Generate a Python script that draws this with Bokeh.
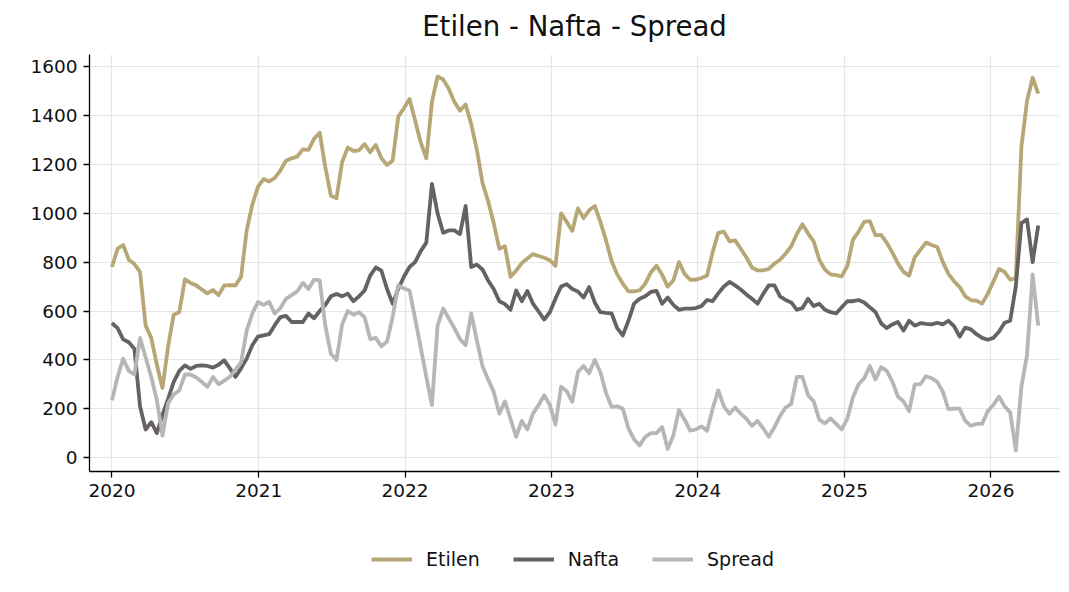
import pandas as pd
from bokeh.plotting import figure
from bokeh.layouts import column
from bokeh.models import Range1d, FixedTicker, DatetimeTickFormatter, Legend, LegendItem, ColumnDataSource
from bokeh.embed import file_html
from bokeh.resources import INLINE

# ---- data (biweekly) ----
start_date = "2020-01-01"
n_points = 166

etilen = [780, 855, 870, 810, 792, 760, 540, 490, 380, 285,
          455, 585, 596, 730, 715, 705, 688, 672, 686, 665,
          705, 706, 705, 740, 930, 1035, 1108, 1140, 1130, 1145,
          1175, 1215, 1225, 1232, 1262, 1260, 1305, 1330, 1190, 1072,
          1062, 1210, 1269, 1255, 1258, 1283, 1250, 1280, 1225, 1198,
          1215, 1395, 1430, 1468, 1380, 1290, 1225, 1456, 1560, 1548,
          1510, 1456, 1420, 1445, 1365, 1260, 1125, 1050, 960, 855,
          865, 740, 765, 796, 815, 833, 825, 818, 808, 785,
          1000, 965, 928, 1020, 980, 1012, 1030, 965, 890, 805,
          750, 712, 680, 680, 685, 712, 758, 785, 748, 700,
          725, 800, 752, 728, 728, 735, 745, 840, 920, 925,
          885, 889, 855, 820, 778, 766, 766, 772, 794, 810,
          835, 865, 915, 955, 917, 885, 810, 770, 750, 747,
          742, 785, 892, 925, 965, 968, 910, 912, 880, 840,
          795, 760, 745, 820, 850, 880, 870, 862, 800, 752,
          722, 698, 660, 645, 642, 630, 670, 720, 772, 760,
          728, 735, 1272, 1460, 1555, 1490]

nafta = [551, 530, 484, 472, 445, 210, 115, 145, 100, 175,
         240, 310, 355, 377, 363, 375, 377, 375, 368, 380,
         398, 365, 330, 365, 405, 460, 495, 500, 505, 542,
         575, 580, 555, 555, 555, 590, 570, 600, 625, 660,
         670, 660, 671, 640, 660, 684, 745, 778, 765, 690,
         630, 690, 740, 780, 800, 845, 880, 1120, 1000, 920,
         930, 930, 915, 1030, 780, 790, 770, 725, 690, 640,
         628, 605, 684, 640, 682, 630, 598, 565, 595, 650,
         700, 710, 690, 680, 655, 698, 635, 595, 592, 590,
         530, 500, 560, 630, 650, 660, 678, 682, 630, 655,
         625, 605, 610, 610, 612, 620, 645, 640, 672, 700,
         719, 705, 688, 668, 650, 630, 670, 705, 705, 660,
         645, 635, 605, 612, 650, 620, 630, 605, 595, 590,
         615, 640, 640, 645, 635, 615, 596, 550, 530, 545,
         555, 520, 560, 540, 550, 547, 545, 552, 545, 560,
         538, 495, 532, 525, 505, 490, 482, 490, 515, 552,
         560, 700, 960, 975, 800, 950]

spread = [234, 330, 405, 355, 340, 490, 410, 330, 235, 90,
          222, 258, 275, 340, 340, 328, 310, 290, 330, 300,
          315, 330, 360, 390, 520, 589, 637, 625, 637, 590,
          612, 650, 665, 680, 715, 690, 728, 725, 540, 425,
          400, 545, 600, 585, 595, 575, 485, 490, 455, 475,
          575, 705, 692, 684, 570, 450, 330, 215, 540, 610,
          570, 530, 485, 460, 590, 480, 375, 320, 270, 180,
          230, 158, 85, 150, 115, 180, 215, 255, 215, 135,
          290, 272, 228, 350, 375, 345, 400, 350, 265, 208,
          210, 200, 120, 75, 50, 85, 100, 100, 125, 35,
          90, 195, 155, 110, 115, 128, 110, 200, 275, 210,
          179, 205, 180, 159, 130, 150, 120, 85, 124, 170,
          205, 220, 330, 330, 255, 230, 155, 140, 160, 138,
          115, 160, 247, 300, 325, 375, 320, 370, 355, 312,
          250, 230, 190, 300, 300, 333, 325, 310, 270, 198,
          200, 200, 150, 130, 138, 138, 190, 215, 250, 210,
          185, 30, 290, 420, 750, 540]

year_ticks = [2020, 2021, 2022, 2023, 2024, 2025, 2026]
y_ticks = [0, 200, 400, 600, 800, 1000, 1200, 1400, 1600]

series_names = ["Etilen", "Nafta", "Spread"]
series_colors = ["#b7a676", "#666262", "#b6b6b6"]

dates = pd.date_range(start_date, periods=n_points, freq="14D")
src = ColumnDataSource(dict(date=dates, Etilen=etilen, Nafta=nafta, Spread=spread))

FONT = "DejaVu Sans"
W = 1069
H_MAIN = 516
H_LEG = 592 - H_MAIN

p = figure(width=W, height=H_MAIN, x_axis_type="datetime",
           output_backend="svg", toolbar_location=None,
           x_range=Range1d(pd.Timestamp("2019-11-06"), pd.Timestamp("2026-06-21")),
           y_range=Range1d(-57, 1650),
           min_border_left=89, min_border_right=10, min_border_top=54, min_border_bottom=45)

p.title.text = "Etilen - Nafta - Spread"
p.title.align = "center"
p.title.vertical_align = "top"
p.title.text_font = FONT
p.title.text_font_size = "27.6px"
p.title.text_font_style = "normal"
p.title.text_color = "#111111"
p.title.standoff = 19

p.outline_line_color = None
p.background_fill_color = "white"
p.border_fill_color = "white"

tick_ms = [pd.Timestamp(f"{y}-01-01").value // 10**6 for y in year_ticks]
p.xaxis.ticker = FixedTicker(ticks=tick_ms)
p.xgrid.ticker = FixedTicker(ticks=tick_ms)
p.xaxis.formatter = DatetimeTickFormatter(years="%Y", months="%Y", days="%Y", hours="%Y",
                                          minutes="%Y", seconds="%Y", milliseconds="%Y",
                                          microseconds="%Y", hourmin="%Y", minsec="%Y")
p.yaxis.ticker = FixedTicker(ticks=y_ticks)
p.ygrid.ticker = FixedTicker(ticks=y_ticks)

for ax in (p.xaxis, p.yaxis):
    ax.axis_line_color = "black"
    ax.axis_line_width = 1.3
    ax.major_tick_line_color = "black"
    ax.major_tick_line_width = 1.3
    ax.major_tick_out = 6
    ax.major_tick_in = 0
    ax.minor_tick_line_color = None
    ax.major_label_text_font = FONT
    ax.major_label_text_font_size = "18.5px"
    ax.major_label_text_color = "#111111"
    ax.major_label_standoff = 6

for g in (p.xgrid, p.ygrid):
    g.grid_line_color = "#e6e6e6"
    g.grid_line_width = 1.2

for name, col in zip(series_names, series_colors):
    p.line("date", name, source=src, line_color=col, line_width=3.8, line_join="round")

# ---- legend strip below the chart (same series; their lines fall outside this strip's ranges) ----
q = figure(width=W, height=H_LEG, output_backend="svg", toolbar_location=None,
           x_axis_location=None, y_axis_location=None,
           x_range=Range1d(0, 1), y_range=Range1d(0, 1),
           min_border_left=0, min_border_right=0, min_border_top=0, min_border_bottom=0)
q.outline_line_color = None
q.grid.visible = False
q.background_fill_color = "white"
q.border_fill_color = "white"

items = []
for name, col in zip(series_names, series_colors):
    r = q.line("date", name, source=src, line_color=col, line_width=4)
    items.append(LegendItem(label=name, renderers=[r]))

legend = Legend(items=items, orientation="horizontal", location=(282, 22),
                border_line_color=None, background_fill_alpha=0,
                glyph_width=41, glyph_height=20, label_standoff=14, spacing=33,
                label_text_font=FONT, label_text_font_size="19px", label_text_color="#111111",
                margin=0, padding=10)
q.add_layout(legend, "center")

layout = column(p, q, spacing=0)
open("out.html", "w").write(file_html(layout, INLINE))
